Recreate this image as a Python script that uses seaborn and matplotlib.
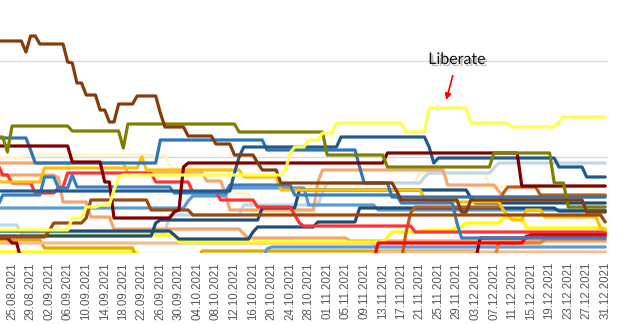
import matplotlib
matplotlib.use("Agg")
import matplotlib.pyplot as plt
import matplotlib.patheffects as pe
import numpy as np
import pandas as pd
import seaborn as sns

# ---- data: each series as runs of (start day, value); day 0 = 25.08.2021 ----
start_date = "2021-08-25"
first_day, last_day = -3, 128

cream = [(-3, 95), (3, 98), (34, 88), (35, 84), (48, 60), (52, 40), (66, 55), (67, 70), (88, 80), (103, 66)]
light_blue = [(-3, 28), (2, 20), (34, 38), (50, 48), (67, 60), (68, 70), (89, 76), (90, 80), (104, 85), (105, 90)]
yellow_low = [(-3, 1), (28, -8)]
dark_gold = [(-3, 13), (7, 5), (27, -8), (41, 2), (101, -8)]
salmon_low = [(-3, 10), (79, 1)]
salmon_mid = [(-3, 78), (10, 75), (11, 51), (17, 36), (22, 24), (50, 19), (51, 15), (73, 12)]
salmon_high = [(-3, 90), (25, 80), (42, 72), (46, 60), (47, 43), (66, 71), (67, 83), (94, 68), (105, 62), (106, 56)]
yellow_mid = [(-3, 22), (7, 18), (36, 11), (81, 16), (82, 21), (89, 23), (96, 26), (98, 30), (106, 35), (111, 25)]
blue_low = [(-3, -8), (55, 4), (56, 6)]
steel_blue = [(-3, 45), (38, 52), (39, 57), (47, 65), (64, 48), (79, 43)]
navy_a = [(-3, 22), (35, 18), (36, 14), (52, 21), (53, 26), (66, 31), (75, 45), (118, 42)]
navy_b = [(-3, 17), (31, 30), (32, 33), (54, 45), (62, 63), (99, 55), (100, 50)]
orange = [(-3, -8), (105, 10), (115, 14)]
rust = [(-3, -8), (85, 20), (86, 40), (87, 46), (106, 60), (107, 66), (114, 58)]
dark_red = [(-3, 15), (0, 10), (2, -8), (101, 15), (112, 19)]
bright_red = [(-3, -8), (79, 10), (111, 17)]
red = [(-3, 88), (-2, 78), (0, 70), (4, 70), (5, 60), (10, 65), (11, 66), (12, 80), (30, 80), (31, 71),
       (39, 61), (45, 53), (53, 46), (61, 38), (62, 30), (63, 27), (87, 21)]
gold = [(-3, 71), (7, 85), (28, 96), (29, 83), (50, 76), (58, 63), (89, 55), (90, 51), (106, 43), (107, 38),
        (108, 33), (111, 43), (115, 36), (127, 25), (128, 23)]
blue_b = [(-3, 48), (-2, 58), (7, 76), (10, 65), (13, 78), (14, 66), (35, 60), (47, 68), (61, 58), (84, 50),
          (96, 30), (97, 15)]
blue_a = [(-3, 115), (4, 103), (5, 90), (32, 113), (55, 103), (75, 86), (76, 70), (82, 56)]
navy_top = [(-3, 62), (48, 80), (49, 96), (50, 106), (71, 116), (90, 106), (91, 90), (92, 95), (118, 86), (124, 76)]
brown = [(-3, 16), (8, 22), (9, 30), (16, 35), (17, 53), (30, 43), (39, 38), (128, 31)]
maroon = [(-3, 107), (13, 91), (20, 71), (22, 35), (35, 41), (36, 43), (37, 86), (38, 90), (81, 100), (110, 67)]
olive = [(-3, 116), (-1, 101), (0, 127), (13, 122), (24, 105), (25, 129), (49, 121), (68, 98), (81, 86),
         (104, 100), (117, 70), (120, 46)]
dark_brown = [(-3, 212), (3, 201), (4, 217), (6, 209), (12, 191), (13, 190), (14, 170), (16, 158), (19, 143),
              (21, 131), (23, 149), (27, 157), (32, 140), (33, 126), (38, 117), (44, 109), (48, 98), (53, 90),
              (54, 83), (58, 70), (83, 62), (84, 53), (97, 41), (99, 53), (124, 41)]
liberate = [(-3, 23), (13, 35), (16, 46), (19, 48), (22, 63), (23, 76), (24, 78), (59, 83), (60, 100), (61, 106),
            (64, 113), (67, 120), (70, 130), (85, 121), (90, 145), (99, 130), (108, 126), (118, 131), (119, 136)]

series = {
    "cream": (cream, "#FFF2CC"),
    "light_blue": (light_blue, "#BDD7EE"),
    "yellow_low": (yellow_low, "#FFFF00"),
    "dark_gold": (dark_gold, "#E0A800"),
    "salmon_low": (salmon_low, "#F8BA8E"),
    "salmon_mid": (salmon_mid, "#F4A46C"),
    "salmon_high": (salmon_high, "#F4A870"),
    "yellow_mid": (yellow_mid, "#FFFF00"),
    "blue_low": (blue_low, "#5B9BD5"),
    "steel_blue": (steel_blue, "#5B9BD5"),
    "navy_a": (navy_a, "#1F4E79"),
    "navy_b": (navy_b, "#1F4E79"),
    "orange": (orange, "#ED7D31"),
    "rust": (rust, "#C55A11"),
    "dark_red": (dark_red, "#8B0000"),
    "bright_red": (bright_red, "#FF0000"),
    "red": (red, "#FF3333"),
    "gold": (gold, "#FFC000"),
    "blue_b": (blue_b, "#3A7DC0"),
    "blue_a": (blue_a, "#2E75B6"),
    "navy_top": (navy_top, "#215A8E"),
    "brown": (brown, "#9E480E"),
    "maroon": (maroon, "#800000"),
    "olive": (olive, "#808000"),
    "dark_brown": (dark_brown, "#843C0C"),
    "liberate": (liberate, "#FFFF4F"),
}

# expand run-length step data to daily rows
days = np.arange(first_day, last_day + 1)
rows = []
for name, (runs, _) in series.items():
    starts = [r[0] for r in runs]
    vals = [r[1] for r in runs]
    for d in days:
        idx = np.searchsorted(starts, d, side="right") - 1
        rows.append((name, d, vals[max(idx, 0)]))
df = pd.DataFrame(rows, columns=["series", "day", "value"])

tick_days = list(range(0, 129, 4))
tick_labels = [d.strftime("%d.%m.%Y") for d in pd.date_range(start_date, periods=len(tick_days), freq="4D")]

sns.set_style("white")
plt.rcParams["font.family"] = ["Liberation Sans", "DejaVu Sans"]

fig = plt.figure(figsize=(6.21, 3.24), dpi=100)
ax = fig.add_axes([0, 71 / 324, 608 / 621, 253 / 324])

palette = {k: v[1] for k, v in series.items()}
sns.lineplot(data=df, x="day", y="value", hue="series", hue_order=list(series.keys()),
             palette=palette, legend=False, linewidth=2.3, estimator=None, sort=True, ax=ax,
             solid_joinstyle="round", solid_capstyle="round")

ax.set_xlim(-2.6, 128.6)
ax.set_ylim(0, 253)
ax.set_yticks([96, 192])
ax.set_yticklabels([])
ax.yaxis.grid(True, color="#D9D9D9", linewidth=1)
ax.xaxis.grid(False)
ax.set_axisbelow(True)
for s in ax.spines.values():
    s.set_visible(False)
ax.set_xticks(tick_days)
ax.set_xticklabels(tick_labels, rotation=90, fontsize=8.3, color="#595959")
ax.tick_params(axis="x", length=0, pad=6.5)
ax.tick_params(axis="y", length=0)
ax.set_xlabel("")
ax.set_ylabel("")

ax.annotate("Liberate", xy=(93.7, 153), xytext=(96.0, 193), ha="center", va="center",
            fontsize=11.5, color="#111111", family=["Lato", "DejaVu Sans"],
            path_effects=[pe.withSimplePatchShadow(offset=(1.5, -1.5), shadow_rgbFace="#777777", alpha=0.5)],
            arrowprops=dict(arrowstyle="-|>", color="red", lw=1.2, mutation_scale=9, shrinkA=4, shrinkB=0))

fig.savefig("out.png", dpi=100)
